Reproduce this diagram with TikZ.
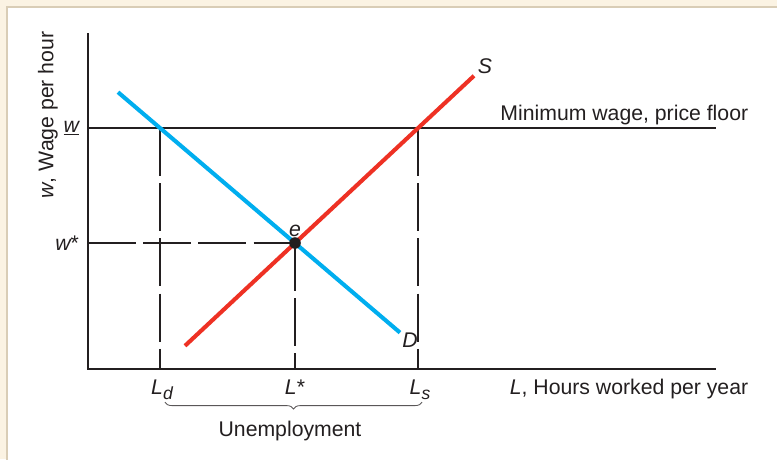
\documentclass[tikz,border=0pt]{standalone}
\usepackage{fontspec}
\setmainfont{Liberation Sans}
\usetikzlibrary{decorations.pathreplacing}
\definecolor{inkblack}{HTML}{231F20}
\definecolor{demandblue}{HTML}{00AEEF}
\definecolor{supplyred}{HTML}{EE3124}
\definecolor{framecream}{HTML}{FBF3E3}
\definecolor{frameline}{HTML}{D9CDB6}
\newcommand{\lowsub}[1]{\raisebox{-0.45ex}{\fontsize{12.5}{14}\selectfont\itshape #1}}
\tikzset{
  axisline/.style={draw=inkblack,line width=2.1pt},
  guideline/.style={draw=inkblack,line width=1.9pt,dash pattern=on 1.2cm off 0.18cm},
  curveline/.style={line width=2.9pt},
  lbl/.style={text=inkblack,inner sep=1pt}
}
\begin{document}
\begin{tikzpicture}[line width=0.6pt,font=\fontsize{15.1}{18}\selectfont]
  % Rahmen
  \fill[framecream] (0,0) rectangle (19.425,11.475);
  \useasboundingbox (0,0) rectangle (19.425,11.475);
  \filldraw[fill=white,draw=frameline,line width=0.8pt] (0.175,-0.1) rectangle (19.6,11.3);

  \coordinate (O) at (2.2,2.25);
  \coordinate (Ytop) at (2.2,10.65);
  \coordinate (Xend) at (17.9,2.25);
  \coordinate (Wleft) at (2.2,8.275);
  \coordinate (Wright) at (17.9,8.275);
  \coordinate (Dtop) at (2.95,9.17);
  \coordinate (Dbot) at (10.0,3.16);
  \coordinate (Sbot) at (4.625,2.83);
  \coordinate (Stop) at (11.85,9.58);
  \coordinate (Ad) at (4.0,8.275);
  \coordinate (As) at (10.45,8.275);
  \coordinate (E) at (7.375,5.4);
  \coordinate (Wstar) at (2.2,5.4);
  \coordinate (Ld) at (4.0,2.25);
  \coordinate (Lstar) at (7.375,2.25);
  \coordinate (Ls) at (10.45,2.25);

  % gestrichelte Hilfslinien
  \draw[guideline] (Ad) -- (Ld);
  \draw[guideline] (As) -- (Ls);
  \draw[guideline] (E) -- (Lstar);
  \draw[guideline] (Wstar) -- (E);

  % Achsen und Mindestlohn
  \draw[axisline] (Ytop) -- (O) -- (Xend);
  \draw[axisline] (Wleft) -- (Wright);

  % Nachfrage und Angebot
  \draw[curveline,demandblue] (Dtop) -- (Dbot);
  \draw[curveline,supplyred] (Sbot) -- (Stop);
  \fill[inkblack] (E) circle (0.145);

  % Beschriftung
  \node[lbl,above=3pt] (lblE) at (E) {\itshape e};
  \node[lbl] (lblS) at (12.125,9.825) {\itshape S};
  \node[lbl] (lblD) at (10.25,2.975) {\itshape D};
  \node[lbl,anchor=base east] (lblFloor) at (18.75,8.475) {Minimum wage, price floor};
  \node[lbl,anchor=base east] (lblX) at (18.75,1.625) {{\itshape L}, Hours worked per year};
  \node[lbl,anchor=base] (lblLd) at (4.05,1.625) {{\itshape L}\lowsub{d}};
  \node[lbl,anchor=base] (lblLstar) at (7.375,1.625) {{\itshape L}*};
  \node[lbl,anchor=base] (lblLs) at (10.5,1.625) {{\itshape L}\lowsub{s}};
  \node[lbl,anchor=east] (lblW) at (2.02,8.275) {\underline{\itshape w}};
  \node[lbl,anchor=east] (lblWstar) at (2.02,5.4) {{\itshape w}*};
  \node[lbl,rotate=90] (lblY) at (1.2,8.6) {{\itshape w}, Wage per hour};

  % Arbeitslosigkeit
  \coordinate (BrL) at (4.125,1.42);
  \coordinate (BrR) at (10.55,1.42);
  \draw[draw=inkblack!75,line width=0.6pt,decorate,decoration={brace,mirror,amplitude=0.17cm}] (BrL) -- (BrR);
  \node[lbl,anchor=base] (lblU) at (7.25,0.575) {Unemployment};
\end{tikzpicture}
\end{document}
